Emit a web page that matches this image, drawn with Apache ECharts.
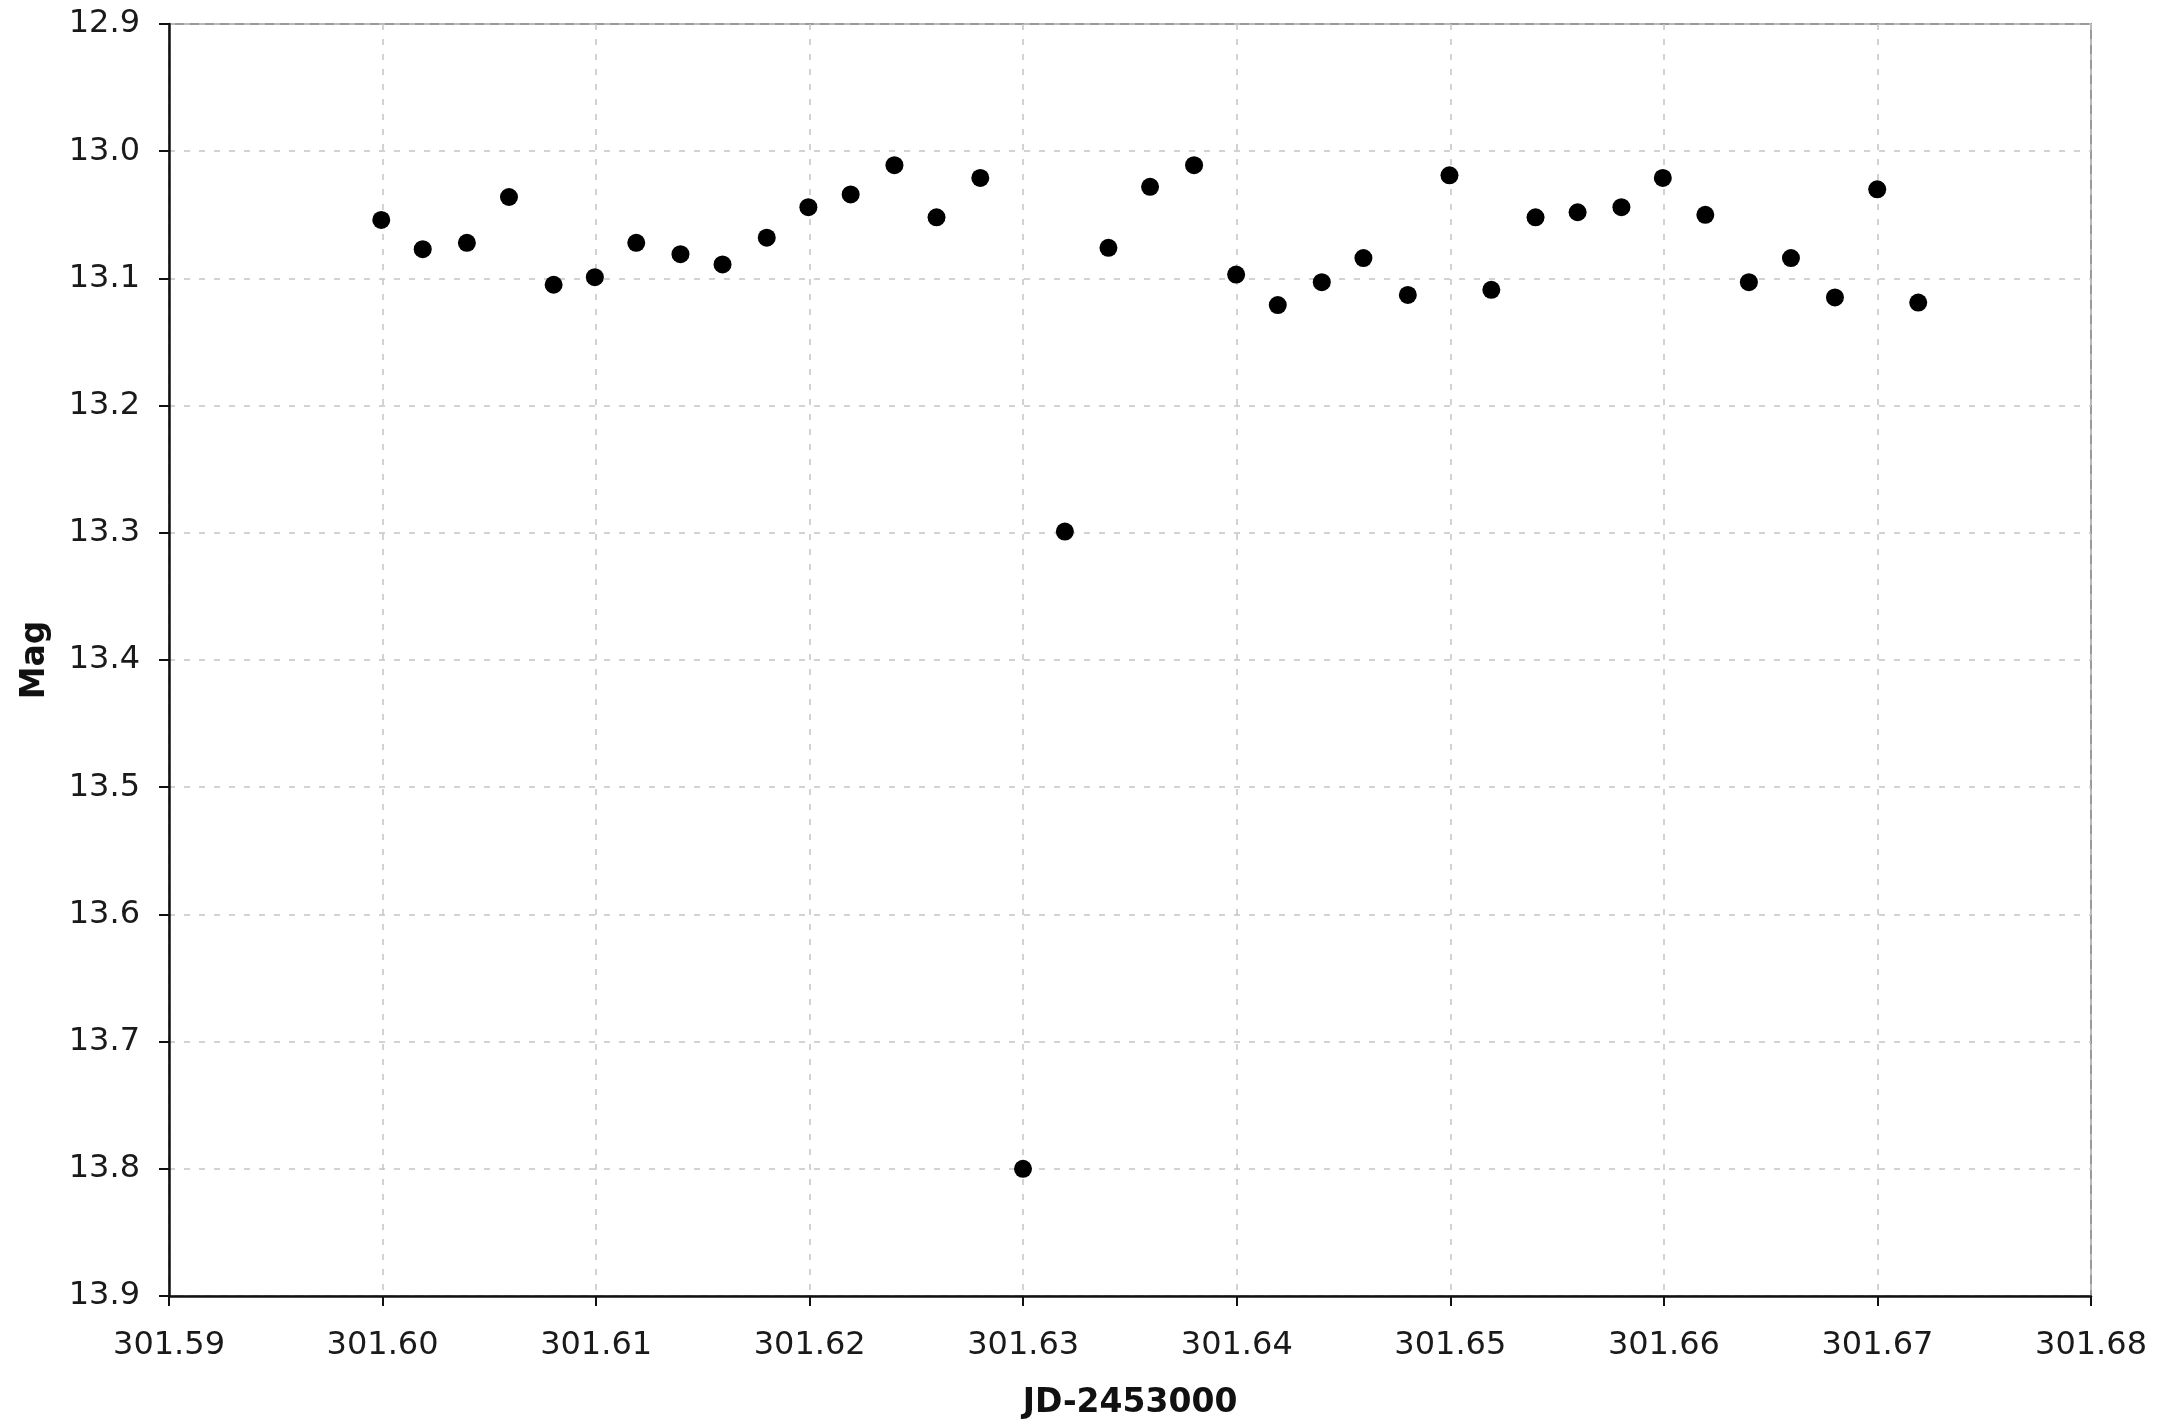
<!DOCTYPE html>
<html>
<head>
<meta charset="utf-8">
<script src="https://cdn.jsdelivr.net/npm/echarts@6/dist/echarts.min.js"></script>
<style>
html, body { margin: 0; padding: 0; background: #ffffff; }
#chart { width: 2170px; height: 1425px; }
</style>
</head>
<body>
<div id="chart"></div>
<script>
const jd = [301.59994, 301.60188, 301.60395, 301.60592, 301.60801, 301.60994, 301.61188, 301.61395, 301.61592, 301.61799,
  301.61994, 301.62192, 301.62397, 301.62594, 301.62799, 301.62999, 301.63195, 301.63399, 301.63594, 301.63800,
  301.63997, 301.64192, 301.64398, 301.64593, 301.64801, 301.64996, 301.65192, 301.65399, 301.65596, 301.65801,
  301.65995, 301.66194, 301.66398, 301.66595, 301.66801, 301.66999, 301.67191];
const mag = [13.054, 13.077, 13.072, 13.036, 13.105, 13.099, 13.072, 13.081, 13.089, 13.068,
  13.044, 13.034, 13.011, 13.052, 13.021, 13.800, 13.299, 13.076, 13.028, 13.011,
  13.097, 13.121, 13.103, 13.084, 13.113, 13.019, 13.109, 13.052, 13.048, 13.044,
  13.021, 13.050, 13.103, 13.084, 13.115, 13.030, 13.119];
const xAxisTitle = 'JD-2453000';
const yAxisTitle = 'Mag';
const xMin = 301.59, xMax = 301.68, xStep = 0.01;
const yMin = 12.9, yMax = 13.9, yStep = 0.1;

const points = jd.map((x, i) => [x, mag[i]]);
const FONT = '"DejaVu Sans", Verdana, sans-serif';
const gridLine = { show: true, lineStyle: { color: '#c4c4c4', width: 1.5, type: [6, 9] } };

const chart = echarts.init(document.getElementById('chart'), null, { renderer: 'canvas' });
chart.setOption({
  animation: false,
  backgroundColor: '#ffffff',
  grid: {
    left: 169, right: 79, top: 24, bottom: 124,
    show: true, borderColor: '#9a9a9a', borderWidth: 2, backgroundColor: '#ffffff'
  },
  xAxis: {
    type: 'value',
    min: xMin, max: xMax, interval: xStep,
    name: xAxisTitle,
    nameLocation: 'middle',
    nameGap: 90,
    nameTextStyle: { fontFamily: FONT, fontSize: 33, fontWeight: 'bold', color: '#111', lineHeight: 34 },
    axisLine: { show: true, onZero: false, lineStyle: { color: '#111', width: 2.5 } },
    axisTick: { show: true, inside: false, length: 10, lineStyle: { color: '#111', width: 2 } },
    axisLabel: {
      fontFamily: FONT, fontSize: 32, color: '#1a1a1a', margin: 34, lineHeight: 32,
      formatter: v => v.toFixed(2)
    },
    splitLine: gridLine
  },
  yAxis: {
    type: 'value',
    inverse: true,
    min: yMin, max: yMax, interval: yStep,
    name: yAxisTitle,
    nameLocation: 'middle',
    nameGap: 117,
    nameTextStyle: { fontFamily: FONT, fontSize: 33, fontWeight: 'bold', color: '#111', lineHeight: 34 },
    axisLine: { show: true, onZero: false, lineStyle: { color: '#111', width: 2.5 } },
    axisTick: { show: true, inside: false, length: 10, lineStyle: { color: '#111', width: 2 } },
    axisLabel: {
      fontFamily: FONT, fontSize: 32, color: '#1a1a1a', margin: 29,
      formatter: v => v.toFixed(1)
    },
    splitLine: gridLine
  },
  series: [{
    type: 'scatter',
    data: points,
    symbol: 'circle',
    symbolSize: 18,
    itemStyle: { color: '#000000', opacity: 1 },
    emphasis: { disabled: true }
  }]
});
</script>
</body>
</html>
